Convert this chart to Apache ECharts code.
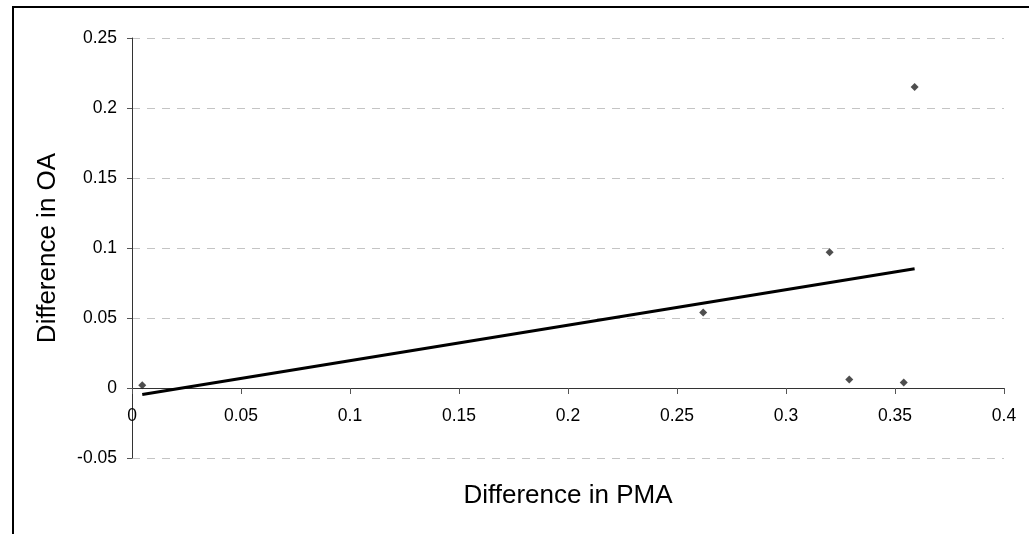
<!DOCTYPE html>
<html>
<head>
<meta charset="utf-8">
<script src="https://cdn.jsdelivr.net/npm/echarts@6/dist/echarts.min.js"></script>
<style>
html,body{margin:0;padding:0;background:#fff;}
#chart{width:1029px;height:534px;}
</style>
</head>
<body>
<div id="chart"></div>
<script>
// Data
var pmaDiff = [0.0047, 0.262, 0.320, 0.329, 0.354, 0.359];
var oaDiff  = [0.002, 0.054, 0.097, 0.006, 0.004, 0.215];
var xTitle = 'Difference in PMA';
var yTitle = 'Difference in OA';

// Linear trendline (least squares) over the data range
var n = pmaDiff.length, mx = 0, my = 0;
for (var i = 0; i < n; i++) { mx += pmaDiff[i]; my += oaDiff[i]; }
mx /= n; my /= n;
var sxy = 0, sxx = 0;
for (var j = 0; j < n; j++) { sxy += (pmaDiff[j]-mx)*(oaDiff[j]-my); sxx += (pmaDiff[j]-mx)*(pmaDiff[j]-mx); }
var slope = sxy / sxx, icpt = my - slope * mx;
var x0 = Math.min.apply(null, pmaDiff), x1 = Math.max.apply(null, pmaDiff);
var trend = [[x0, icpt + slope*x0], [x1, icpt + slope*x1]];

var points = pmaDiff.map(function(x, k){ return [x, oaDiff[k]]; });

var chart = echarts.init(document.getElementById('chart'), null, {renderer:'canvas'});
var font = 'Liberation Sans, Arial, sans-serif';
chart.setOption({
  animation: false,
  backgroundColor: '#fff',
  textStyle: {fontFamily: font},
  grid: {left: 132, right: 25, top: 38, bottom: 76, containLabel: false, outerBoundsMode: 'none'},
  xAxis: {
    type: 'value', min: 0, max: 0.4, interval: 0.05,
    name: xTitle, nameLocation: 'middle', nameGap: 25,
    nameTextStyle: {fontSize: 26, color: '#000', fontFamily: font},
    axisLine: {show: true, onZero: true, lineStyle: {color: '#333', width: 1}},
    axisTick: {show: true, length: 6, lineStyle: {color: '#555'}},
    axisLabel: {fontSize: 17.5, color: '#000', margin: -51, fontFamily: font},
    splitLine: {show: false}
  },
  yAxis: {
    type: 'value', min: -0.05, max: 0.25, interval: 0.05,
    name: yTitle, nameLocation: 'middle', nameGap: 71, nameRotate: 90,
    nameTextStyle: {fontSize: 26, color: '#000', fontFamily: font},
    axisLine: {show: true, onZero: false, lineStyle: {color: '#333', width: 1}},
    axisTick: {show: true, length: 5, lineStyle: {color: '#555'}},
    axisLabel: {fontSize: 17.5, color: '#000', margin: 15, fontFamily: font},
    splitLine: {show: true, lineStyle: {color: '#c4c4c4', width: 1, type: [8, 7]}}
  },
  series: [
    {
      type: 'line', data: trend, showSymbol: false, symbol: 'none', silent: true,
      lineStyle: {color: '#000', width: 3}, z: 3
    },
    {
      type: 'scatter', data: points, symbol: 'diamond', symbolSize: 8,
      itemStyle: {color: '#222'}, z: 4
    }
  ],
  graphic: [
    {type: 'polyline', silent: true,
     shape: {points: [[13, 534], [13, 7], [1029, 7]]},
     style: {stroke: '#000', lineWidth: 2, fill: null}}
  ]
});
</script>
</body>
</html>
